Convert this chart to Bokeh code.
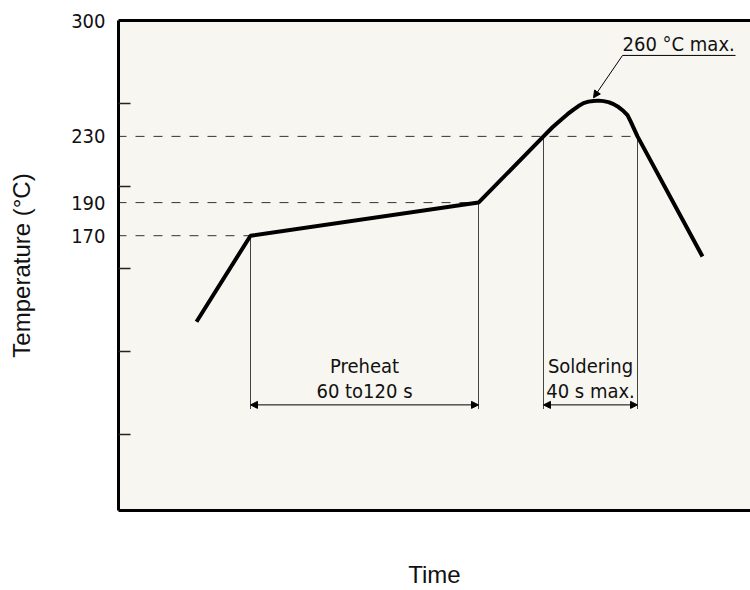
from bokeh.plotting import figure
from bokeh.models import LinearAxis, FixedTicker, Range1d, Arrow, NormalHead
from bokeh.core.properties import value
from bokeh.embed import file_html
from bokeh.resources import INLINE

# ---- data (schematic reflow profile) ----
time = [39, 66, 180, 212.5, 217, 221, 224.5, 227.5, 230, 232.5, 235, 237.5, 240,
        242.5, 245, 247.5, 250, 252.5, 254.5, 256, 259.5, 292]
temp = [118, 170, 190, 230, 235.5, 239.8, 243.4, 246.2, 248.3, 250.1, 251.0, 251.4, 251.6,
        251.3, 250.7, 249.5, 247.7, 245.3, 242.8, 239.2, 230, 157.4]

y_labeled = [170, 190, 230, 300]
y_minor = [50, 100, 150, 200, 250]

# reference levels (dashed) and where they meet the curve
ref_levels = [170, 190, 230]
ref_level_end = [66, 180, 259.5]

# dimension markers
preheat = (66, 180)
soldering = (212.5, 259.5)
dim_bottom = 65.3
dim_arrow_y = 67.8
line1_y = 91.0
line2_y = 76.0

peak_label = "260 °C max."
peak_label_xy = (252, 285.6)
peak_underline = (252, 308.5, 278.9)
peak_arrow_tip = (237.5, 253.3)

TICK_FONT = value("DejaVu Sans Condensed")
AX_FONT = "Liberation Sans"

p = figure(width=750, height=590, output_backend="svg", toolbar_location=None,
           x_range=Range1d(0, 316), y_range=Range1d(4, 300),
           x_axis_location=None, y_axis_location=None,
           min_border_left=118, min_border_right=0, min_border_top=20, min_border_bottom=78,
           background_fill_color="#f7f6f0", border_fill_color="white",
           outline_line_color=None)
p.xgrid.visible = False
p.ygrid.visible = False

# left axis
left = LinearAxis(ticker=FixedTicker(ticks=y_labeled, minor_ticks=y_minor),
                  axis_label="Temperature (°C)")
left.axis_line_width = 3
left.axis_line_color = "black"
left.major_tick_line_color = None
left.minor_tick_in = 12
left.minor_tick_out = 0
left.minor_tick_line_color = "#222222"
left.minor_tick_line_width = 1.5
left.major_label_standoff = 7
left.major_label_text_font = "DejaVu Sans Condensed"
left.major_label_text_font_size = "20px"
left.major_label_text_color = "#111111"
left.axis_label_text_font = AX_FONT
left.axis_label_text_font_size = "24px"
left.axis_label_text_font_style = "normal"
left.axis_label_text_color = "#111111"
left.axis_label_standoff = 33
p.add_layout(left, "left")

# top border
top = LinearAxis(ticker=FixedTicker(ticks=[]))
top.axis_line_width = 3
top.axis_line_color = "black"
top.major_tick_line_color = None
top.minor_tick_line_color = None
top.major_label_text_font_size = "0px"
p.add_layout(top, "above")

# bottom border + label
bottom = LinearAxis(ticker=FixedTicker(ticks=[]), axis_label="Time")
bottom.axis_line_width = 3
bottom.axis_line_color = "black"
bottom.major_tick_line_color = None
bottom.minor_tick_line_color = None
bottom.major_label_text_font_size = "0px"
bottom.axis_label_text_font = AX_FONT
bottom.axis_label_text_font_size = "24px"
bottom.axis_label_text_font_style = "normal"
bottom.axis_label_text_color = "#111111"
bottom.axis_label_text_line_height = 1.0
bottom.axis_label_standoff = 50
p.add_layout(bottom, "below")

# dashed reference lines
p.segment(x0=[0] * len(ref_levels), y0=ref_levels, x1=ref_level_end, y1=ref_levels,
          line_color="#333333", line_width=1, line_dash="9 9", line_dash_offset=1)

# vertical dimension lines
vx = [preheat[0], preheat[1], soldering[0], soldering[1]]
vy_top = [170, 190, 230, 230]
p.segment(x0=vx, y0=vy_top, x1=vx, y1=[dim_bottom] * 4, line_color="#444444", line_width=1)

# dimension arrows
for a, b in (preheat, soldering):
    p.add_layout(Arrow(start=NormalHead(size=7, fill_color="black", line_color="black"),
                       end=NormalHead(size=7, fill_color="black", line_color="black"),
                       x_start=a, y_start=dim_arrow_y, x_end=b, y_end=dim_arrow_y,
                       line_color="black", line_width=1))

# profile curve
p.line(time, temp, line_color="black", line_width=4)

# annotation texts
p.text(x=[(preheat[0] + preheat[1]) / 2, (preheat[0] + preheat[1]) / 2,
          (soldering[0] + soldering[1]) / 2, (soldering[0] + soldering[1]) / 2],
       y=[line1_y, line2_y, line1_y, line2_y],
       text=["Preheat", "60 to120 s", "Soldering", "40 s max."],
       text_font=TICK_FONT, text_font_size="20px", text_align="center",
       text_baseline="middle", text_color="#111111")

p.text(x=[peak_label_xy[0]], y=[peak_label_xy[1]], text=[peak_label],
       text_font=TICK_FONT, text_font_size="20px", text_align="left",
       text_baseline="middle", text_color="#111111")
p.segment(x0=[peak_underline[0]], y0=[peak_underline[2]], x1=[peak_underline[1]],
          y1=[peak_underline[2]], line_color="black", line_width=1)
p.add_layout(Arrow(end=NormalHead(size=7, fill_color="black", line_color="black"),
                   x_start=peak_underline[0], y_start=peak_underline[2],
                   x_end=peak_arrow_tip[0], y_end=peak_arrow_tip[1],
                   line_color="black", line_width=1))

open("out.html", "w").write(file_html(p, INLINE))
